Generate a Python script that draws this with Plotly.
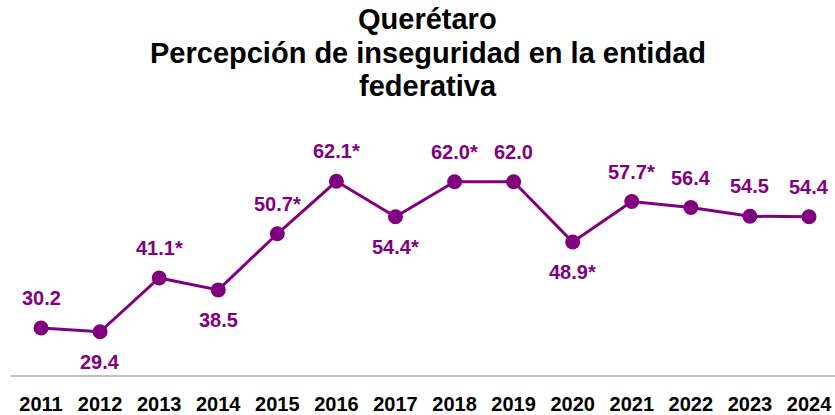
import plotly.graph_objects as go

years = ["2011", "2012", "2013", "2014", "2015", "2016", "2017", "2018", "2019", "2020", "2021", "2022", "2023", "2024"]
values = [30.2, 29.4, 41.1, 38.5, 50.7, 62.1, 54.4, 62.0, 62.0, 48.9, 57.7, 56.4, 54.5, 54.4]
labels = ["30.2", "29.4", "41.1*", "38.5", "50.7*", "62.1*", "54.4*", "62.0*", "62.0", "48.9*", "57.7*", "56.4", "54.5", "54.4"]
label_above = [True, False, True, False, True, True, False, True, True, False, True, True, True, True]
title_lines = ["Querétaro", "Percepción de inseguridad en la entidad", "federativa"]

PURPLE = "#800080"
FONT = "Liberation Sans, Arial, sans-serif"

x = list(range(len(years)))

fig = go.Figure()
fig.add_trace(go.Scatter(
    x=x, y=values, mode="lines+markers",
    line=dict(color=PURPLE, width=3),
    marker=dict(color=PURPLE, size=15),
    hoverinfo="skip", showlegend=False,
))

for xi, v, lab, up in zip(x, values, labels, label_above):
    fig.add_annotation(
        x=xi, y=v, text=lab, showarrow=False,
        yshift=30 if up else -30,
        font=dict(family=FONT, size=20, color=PURPLE, weight="bold"),
    )

for line, shift in zip(title_lines, [91, 57, 24]):
    fig.add_annotation(
        xref="paper", yref="paper", x=0.506, y=1, xanchor="center", yanchor="middle",
        yshift=shift, text=line, showarrow=False,
        font=dict(family=FONT, size=29, color="black", weight="bold"),
    )

fig.update_layout(
    width=835, height=415,
    margin=dict(l=11, r=0, t=110, b=38),
    paper_bgcolor="white", plot_bgcolor="white",
    hovermode=False,
    xaxis=dict(
        range=[-0.508, 13.44], tickmode="array", tickvals=x, ticktext=years,
        showgrid=False, zeroline=False, showline=True, linecolor="#c0c0c0", linewidth=2,
        ticks="", tickfont=dict(family=FONT, size=20, color="black", weight="bold"),
        ticklabelstandoff=10,
    ),
    yaxis=dict(range=[20.0, 77.6], visible=False, showgrid=False, zeroline=False),
)

fig.write_html(
    "out.html",
    config={"displayModeBar": False},
    post_script="document.body.style.margin='0';document.body.style.overflow='hidden';",
)
